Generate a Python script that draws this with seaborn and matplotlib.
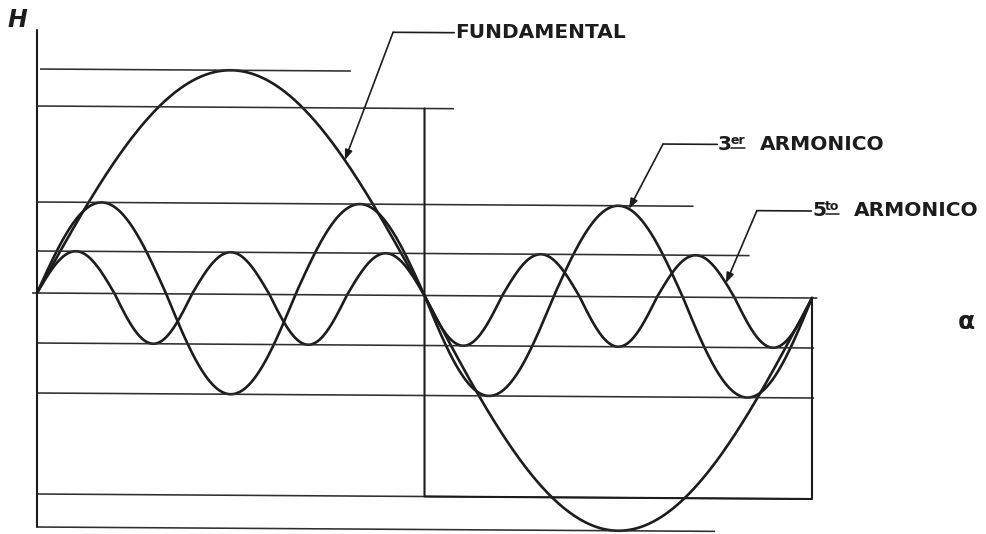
import numpy as np
import pandas as pd
import matplotlib
matplotlib.use("Agg")
import matplotlib.pyplot as plt
import matplotlib.transforms as mtransforms
import seaborn as sns

# ---------------- data ----------------
harmonics = ["FUNDAMENTAL", "3er ARMONICO", "5to ARMONICO"]
orders = [1, 3, 5]
amp_pos = [2.24, 0.91, 0.42]      # height of positive lobes (H units)
amp_neg = [2.34, 1.00, 0.50]      # depth of negative lobes (H units)
square_pos = 1.87                 # rectangular wave, top
square_neg = 2.01                 # rectangular wave, bottom
period_deg = 360

# construction lines: level and extent in alpha (degrees)
guide_levels = [amp_pos[0], square_pos, amp_pos[1], amp_pos[2], 0.0,
                -amp_neg[2], -amp_neg[1], -square_neg, -amp_neg[0]]
guide_from = [1.4, 0, 0, 0, -2.3, 0, 0, 0, 0]
guide_to = [145.8, 193.7, 305, 331, 362.5, 361, 361, 360, 315]

# labels: where the arrow touches the curve (alpha), leader knee, text anchor
label_num = ["", "3", "5"]
label_sup = ["", "er", "to"]
label_word = ["FUNDAMENTAL", "ARMONICO", "ARMONICO"]
tip_alpha = [143, 275, 320]
knee_alpha = [165.4, 290.8, 334.4]
knee_h = [2.63, 1.53, 0.87]
text_alpha = [194.1, 316.3, 360.0]
text_h = [2.60, 1.48, 0.82]

# ---------------- figure ----------------
sns.set_style("white")
plt.rcParams['font.family'] = ['DejaVu Sans']
DPI = 100
W, Hpx = 986, 534
fig = plt.figure(figsize=(W / DPI, Hpx / DPI), dpi=DPI)
ax = fig.add_axes([0, 0, 1, 1])
px_per_deg = 775 / 360
ax.set_xlim(-37 / px_per_deg, (W - 37) / px_per_deg)
ax.set_ylim(-2.41, 2.93)
ax.set_axis_off()

INK = "#1c1c1c"
GUIDE = "#2e2e2e"

# slight rotation of the scanned drawing
k = 0.00645
tilt = ax.transData + mtransforms.Affine2D(
    np.array([[1, 0, 0], [-k, 1, k * 37], [0, 0, 1]]))

# sinusoids
alpha = np.linspace(0, period_deg, 1441)
frames = []
for name, n, ap, an in zip(harmonics, orders, amp_pos, amp_neg):
    s = np.sin(np.deg2rad(n * alpha))
    h = np.where(s >= 0, ap * s, an * s)
    frames.append(pd.DataFrame({"alpha": alpha, "H": h, "curve": name}))
df = pd.concat(frames, ignore_index=True)
sns.lineplot(data=df, x="alpha", y="H", hue="curve", units="curve",
             estimator=None, sort=False, palette=[INK] * 3, legend=False,
             linewidth=1.9, ax=ax, transform=tilt)

# construction lines
for lev, a0, a1 in zip(guide_levels, guide_from, guide_to):
    ax.plot([a0, a1], [lev, lev], color=GUIDE, lw=1.15, transform=tilt,
            solid_capstyle="butt")

# vertical axis (H)
ax.plot([0, 0], [2.63, -amp_neg[0]], color=INK, lw=1.5, transform=tilt)
# rectangular wave
half = period_deg / 2
ax.plot([half, half, period_deg, period_deg],
        [square_pos, -square_neg, -square_neg, 0.0],
        color=INK, lw=1.5, transform=tilt)

# labels with leaders
fs = 14.5
for i in range(len(harmonics)):
    n = orders[i]
    s = np.sin(np.deg2rad(n * tip_alpha[i]))
    tip_h = amp_pos[i] * s if s >= 0 else amp_neg[i] * s
    ax.plot([text_alpha[i] - 0.3, knee_alpha[i]], [knee_h[i], knee_h[i]],
            color=INK, lw=1.2, transform=tilt)
    ax.annotate("", xy=(tip_alpha[i], tip_h), xycoords=tilt,
                xytext=(knee_alpha[i], knee_h[i]), textcoords=tilt,
                arrowprops=dict(arrowstyle="-|>,head_length=0.6,head_width=0.22",
                                color=INK, lw=1.2, shrinkA=0, shrinkB=0))
    anchor = (text_alpha[i], text_h[i])
    if label_num[i]:
        ax.text(*anchor, label_num[i], fontsize=fs, fontweight="bold",
                color=INK, ha="left", va="center")
        ax.annotate(label_sup[i], xy=anchor, xytext=(13, 4),
                    textcoords="offset pixels", fontsize=9, fontweight="bold",
                    color=INK, ha="left", va="center")
        ox, oy = ax.transData.transform(anchor)
        ut = mtransforms.Affine2D().translate(ox, oy)
        ax.plot([13.5, 27], [-3, -3], color=INK, lw=1.1, transform=ut)
        ax.annotate(label_word[i], xy=anchor, xytext=(42, 0),
                    textcoords="offset pixels", fontsize=fs, fontweight="bold",
                    color=INK, ha="left", va="center")
    else:
        ax.text(*anchor, label_word[i], fontsize=fs, fontweight="bold",
                color=INK, ha="left", va="center")

# axis letters
ax.text(7 / W, 1 - 20 / Hpx, "H", transform=ax.transAxes, fontsize=17,
        fontweight="bold", fontstyle="italic", color=INK, ha="left", va="center")
ax.text(966 / W, 1 - 322 / Hpx, "α", transform=ax.transAxes, fontsize=18,
        fontweight="bold", color=INK, ha="center", va="center")

fig.savefig("out.png", dpi=DPI, facecolor="white")
